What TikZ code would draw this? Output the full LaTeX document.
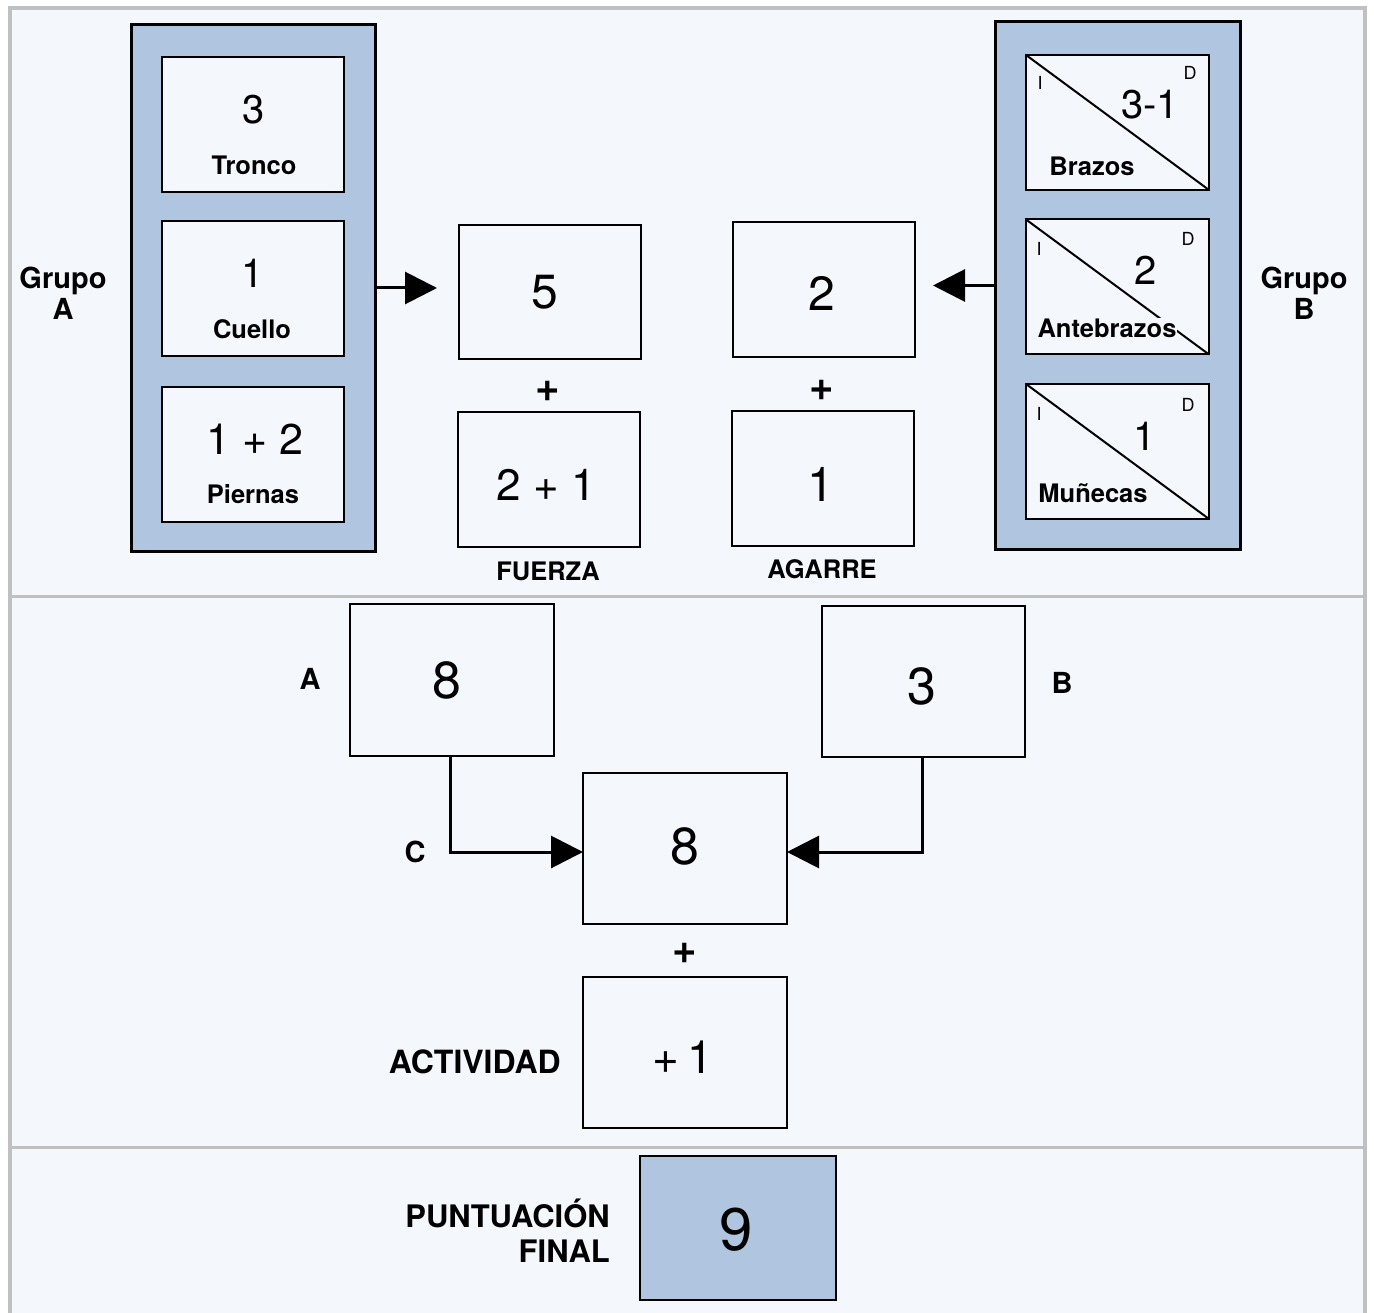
\documentclass[tikz,border=0pt]{standalone}
\usepackage{fontspec}
\setmainfont{TeX Gyre Heros}
\usetikzlibrary{arrows.meta}
\definecolor{bgc}{RGB}{244,247,252}
\definecolor{blu}{RGB}{176,198,224}
\definecolor{frm}{RGB}{192,192,192}
\definecolor{inb}{RGB}{244,247,252}
\begin{document}
\begin{tikzpicture}[x=1pt,y=-1pt,
  box/.style={draw=black, line width=2pt, fill=inb, inner sep=0pt, outer sep=0pt},
  grp/.style={draw=black, line width=3pt, fill=blu, inner sep=0pt, outer sep=0pt},
  num/.style={font=\fontsize{40}{40}\selectfont, inner sep=0pt},
  bignum/.style={font=\fontsize{48}{48}\selectfont, inner sep=0pt},
  hugenum/.style={font=\fontsize{52}{52}\selectfont, inner sep=0pt},
  lbl/.style={font=\fontsize{25.5}{25.5}\selectfont\bfseries, inner sep=1pt, fill=inb},
  side/.style={font=\fontsize{18}{18}\selectfont, inner sep=0pt},
  glbl/.style={font=\fontsize{29}{31}\selectfont\bfseries, inner sep=0pt, align=center},
  plus/.style={font=\fontsize{42}{42}\selectfont\bfseries, inner sep=0pt},
  arr/.style={line width=3pt, -{Triangle[length=32pt,width=32pt]}},
  sep/.style={draw=frm, line width=3pt}
]
\useasboundingbox (0,0) rectangle (1374,1313);
% background and frame
\fill[white] (0,0) rectangle (1374,1313);
\fill[bgc] (10,8) rectangle (1365,1313);
\draw[sep] (10,596) -- (1365,596);
\draw[sep] (10,1147) -- (1365,1147);
\draw[frm, line width=4pt] (10,1313) -- (10,8) -- (1365,8) -- (1365,1313);

% Group A
\node[grp, minimum width=244pt, minimum height=526pt] (gA) at (253,288) {};
\node[box, minimum width=182pt, minimum height=135pt] (tronco) at (253,124.5) {};
\node[box, minimum width=182pt, minimum height=135pt] (cuello) at (253,288.5) {};
\node[box, minimum width=182pt, minimum height=135pt] (piernas) at (253,454.5) {};
\node[num] at (254,110) {3};
\node[lbl] (tTronco) at (254,165) {Tronco};
\node[num] at (253,273) {1};
\node[lbl] (tCuello) at (252,329) {Cuello};
\node[num, font=\fontsize{43}{43}\selectfont] at (255,439) {1 + 2};
\node[lbl] (tPiernas) at (253,494) {Piernas};
\node[glbl] (grupoA) at (63,293) {Grupo\\A};

% Group B
\node[grp, minimum width=245pt, minimum height=527pt] (gB) at (1117.5,285.5) {};
\node[box, minimum width=183pt, minimum height=135pt] (brazos) at (1117.5,122.5) {};
\node[box, minimum width=183pt, minimum height=135pt] (antebrazos) at (1117.5,287) {};
\node[box, minimum width=183pt, minimum height=135pt] (munecas) at (1117.5,451.5) {};
\draw[line width=2pt] (brazos.north west) -- (brazos.south east);
\draw[line width=2pt] (antebrazos.north west) -- (antebrazos.south east);
\draw[line width=2pt] (munecas.north west) -- (munecas.south east);
\node[side] at (1040,83) {I};
\node[side] at (1190,73) {D};
\node[num] at (1150,105) {3-1};
\node[lbl] (tBrazos) at (1092,166) {Brazos};
\node[side] at (1039,249) {I};
\node[side] at (1188,239) {D};
\node[num] at (1146,270) {2};
\node[lbl] (tAnte) at (1107,328) {Antebrazos};
\node[side] at (1039,414) {I};
\node[side] at (1188,405) {D};
\node[num] at (1145,436) {1};
\node[lbl] (tMun) at (1093,493) {Muñecas};
\node[glbl] (grupoB) at (1304,293) {Grupo\\B};

% Fuerza / Agarre
\node[box, minimum width=182pt, minimum height=134pt] (f1) at (550,292) {};
\node[box, minimum width=182pt, minimum height=135pt] (f2) at (549,479.5) {};
\node[box, minimum width=182pt, minimum height=135pt] (g1) at (824,289.5) {};
\node[box, minimum width=182pt, minimum height=135pt] (g2) at (823,478.5) {};
\node[bignum] at (545,292) {5};
\node[num, font=\fontsize{44}{44}\selectfont] at (546,485) {2 + 1};
\node[bignum] at (822,293) {2};
\node[bignum] at (821,484) {1};
\node[plus] (p1) at (548,391) {+};
\node[plus] (p2) at (822,390) {+};
\node[lbl, fill=none] (fuerza) at (548,571) {FUERZA};
\node[lbl, fill=none] (agarre) at (822,569) {AGARRE};

\draw[arr, shorten >=22pt] (gA.east) -- (gA.east -| f1.west);
\draw[arr, shorten >=18pt] (gB.west) -- (gB.west -| g1.east);

% Middle section
\node[box, minimum width=204pt, minimum height=152pt] (bA) at (452,680) {};
\node[box, minimum width=203pt, minimum height=151pt] (bB) at (923.5,681.5) {};
\node[box, minimum width=204pt, minimum height=151pt] (bC) at (685,848.5) {};
\node[box, minimum width=204pt, minimum height=151pt] (act) at (685,1052.5) {};
\node[hugenum] at (447,680) {8};
\node[hugenum] at (922,686) {3};
\node[hugenum] at (685,846) {8};
\node[num, font=\fontsize{46}{46}\selectfont] at (683,1057) {+\,1};
\node[glbl] (lA) at (310,679) {A};
\node[glbl] (lB) at (1062,683) {B};
\node[glbl] (lC) at (415,852) {C};
\node[plus] (p3) at (685,953) {+};
\node[glbl, font=\fontsize{32}{32}\selectfont\bfseries, anchor=east] (lAct) at (561,1062) {ACTIVIDAD};

\coordinate (cA) at (450,852);
\coordinate (cB) at (922,852);
\draw[line width=3pt] ([xshift=-2pt]bA.south) -- (cA);
\draw[arr] ([xshift=-1.5pt]cA) -- (cA -| bC.west);
\draw[line width=3pt] ([xshift=-1.5pt]bB.south) -- (cB);
\draw[arr] ([xshift=1.5pt]cB) -- (cB -| bC.east);

% Final
\node[box, fill=blu, minimum width=196pt, minimum height=144pt] (fin) at (738,1228) {};
\node[font=\fontsize{60}{60}\selectfont, inner sep=0pt] at (736,1230) {9};
\node[font=\fontsize{31}{35}\selectfont\bfseries, inner sep=0pt, align=right, anchor=east] (lFin) at (610,1231) {PUNTUACIÓN\\FINAL};
\end{tikzpicture}
\end{document}
